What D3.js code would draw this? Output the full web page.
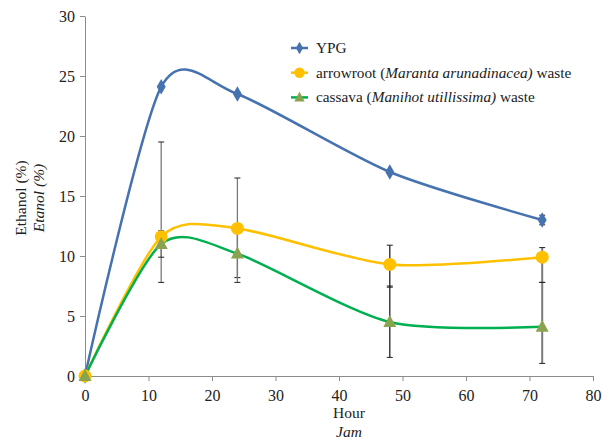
<!DOCTYPE html>
<html>
<head>
<meta charset="utf-8">
<script src="https://cdn.jsdelivr.net/npm/d3@7"></script>
<style>
  body { margin: 0; background: #fff; }
  svg text { font-family: 'Liberation Serif', serif !important; }
</style>
</head>
<body>
<svg width="602" height="444"></svg>
<script>
// data
var hours = [0, 12, 24, 48, 72];
var ypg = [0, 24.1, 23.5, 17.0, 13.0];
var ypgUp = [0, 0, 0, 0, 0.4];
var ypgDown = [0, 0, 0, 0, 0.4];
var arrowroot = [0, 11.6, 12.3, 9.3, 9.9];
var arrowUp = [0, 7.9, 4.2, 1.6, 0.8];
var arrowDown = [0, 3.8, 4.1, 1.9, 2.1];
var cassava = [0, 11.0, 10.2, 4.5, 4.1];
var cassavaUp = [0, 1.1, 2.4, 3.0, 3.7];
var cassavaDown = [0, 1.1, 2.4, 2.95, 3.05];
var xTicks = [0, 10, 20, 30, 40, 50, 60, 70, 80];
var yTicks = [0, 5, 10, 15, 20, 25, 30];

var svg = d3.select("svg");

var x = d3.scaleLinear().domain([0, 80]).range([85, 593]);
var y = d3.scaleLinear().domain([0, 30]).range([376, 16]);

var series = [
  {vals: ypg, up: ypgUp, down: ypgDown, line: "#4672B0", fill: "#4672B0", shape: "diamond"},
  {vals: arrowroot, up: arrowUp, down: arrowDown, line: "#FFC000", fill: "#FFC000", shape: "circle"},
  {vals: cassava, up: cassavaUp, down: cassavaDown, line: "#00B050", fill: "#8AA34F", shape: "triangle"}
];

// axes
var xAxis = svg.append("g")
    .attr("transform", "translate(0," + y(0) + ")")
    .call(d3.axisBottom(x).tickValues(xTicks).tickSize(5).tickSizeOuter(0));
var yAxis = svg.append("g")
    .attr("transform", "translate(" + x(0) + ",0)")
    .call(d3.axisLeft(y).tickValues(yTicks).tickSize(5).tickSizeOuter(0));

[xAxis, yAxis].forEach(function(a) {
  a.attr("font-family", null).attr("font-size", 16);
  a.selectAll("path, line").attr("stroke", "#8c8c8c");
  a.selectAll("text").attr("fill", "#222");
});
xAxis.selectAll("text").attr("dy", "1.05em");
yAxis.selectAll("text").attr("x", -10);

// error bars
var eb = svg.append("g");
series.forEach(function(s) {
  hours.forEach(function(h, i) {
    if (!s.up[i]) return;
    var top = y(s.vals[i] + s.up[i]), bot = y(s.vals[i] - s.down[i]), cx = x(h);
    var col = h == 48 ? "#222" : "#7a7a7a";
    var w = h == 72 ? 2 : 1.3;
    eb.append("line").attr("x1", cx).attr("x2", cx).attr("y1", top).attr("y2", bot)
      .attr("stroke", col).attr("stroke-width", w);
    [top, bot].forEach(function(yy) {
      eb.append("line").attr("x1", cx - 3).attr("x2", cx + 3).attr("y1", yy).attr("y2", yy)
        .attr("stroke", "#222").attr("stroke-width", 1);
    });
  });
});

// smooth lines
var line = d3.line()
    .x(function(d) { return x(d[0]); })
    .y(function(d) { return y(d[1]); })
    .curve(d3.curveCardinal.tension(0.2));

series.forEach(function(s) {
  svg.append("path")
    .datum(d3.zip(hours, s.vals))
    .attr("d", line)
    .attr("fill", "none")
    .attr("stroke", s.line)
    .attr("stroke-width", 2.5);
});

function marker(g, shape, fill) {
  if (shape == "diamond")
    g.append("path").attr("d", d3.symbol(d3.symbolDiamond, 70)()).attr("fill", fill);
  else if (shape == "circle")
    g.append("circle").attr("r", 6.5).attr("fill", fill);
  else
    g.append("path").attr("d", "M0,-7L6.5,5L-6.5,5Z").attr("fill", fill);
}

series.forEach(function(s) {
  hours.forEach(function(h, i) {
    var g = svg.append("g").attr("transform", "translate(" + x(h) + "," + y(s.vals[i]) + ")");
    marker(g, s.shape, s.fill);
  });
});

// legend
var legend = svg.append("g").attr("transform", "translate(291,48)");
var legText = [
  [{t: "YPG"}],
  [{t: "arrowroot ("}, {t: "Maranta arunadinacea)", i: true}, {t: " waste"}],
  [{t: "cassava ("}, {t: "Manihot utillissima)", i: true}, {t: " waste"}]
];
series.forEach(function(s, k) {
  var row = legend.append("g").attr("transform", "translate(0," + k * 24.7 + ")");
  row.append("line").attr("x1", 0).attr("x2", 17).attr("stroke", s.line).attr("stroke-width", 2.5);
  var m = row.append("g").attr("transform", "translate(8.5,0) scale(0.8)");
  marker(m, s.shape, s.fill);
  var t = row.append("text").attr("x", 25).attr("y", 5).attr("font-size", 15.3).attr("fill", "#222");
  legText[k].forEach(function(p) {
    t.append("tspan").text(p.t).attr("font-style", p.i ? "italic" : "normal");
  });
});

// axis titles
function label(tx, ty, rot, txt, it) {
  svg.append("text")
    .attr("transform", "translate(" + tx + "," + ty + ") rotate(" + rot + ")")
    .attr("text-anchor", "middle").attr("font-size", 15.5).attr("fill", "#222")
    .attr("font-style", it ? "italic" : "normal").text(txt);
}
label(26, 198, -90, "Ethanol (%)", false);
label(44, 198, -90, "Etanol (%)", true);
label(349, 418, 0, "Hour", false);
label(349, 437, 0, "Jam", true);
</script>
</body>
</html>
